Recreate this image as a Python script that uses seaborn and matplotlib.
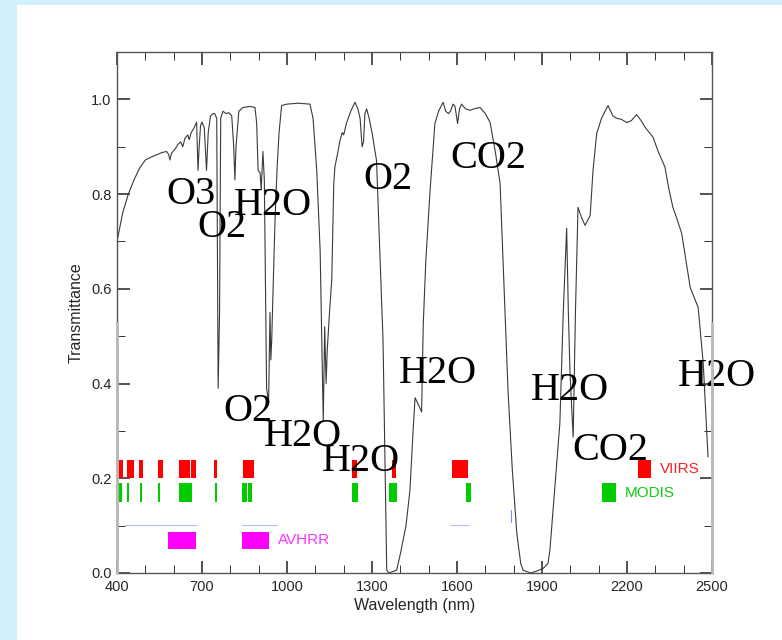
import matplotlib
matplotlib.use("Agg")
import matplotlib.pyplot as plt
import seaborn as sns
import pandas as pd
from matplotlib.patches import Rectangle

# atmospheric transmittance
wavelength = [400, 420, 440, 460, 480, 500, 520, 540, 560, 575, 582, 587, 592, 605, 615,
              625, 632, 640, 650, 655, 662, 672, 681, 686, 690, 695, 700, 708, 716, 722,
              730, 739, 745, 752, 757, 762, 766, 774, 785, 795, 805, 812, 816, 820, 830,
              845, 870, 887, 893, 898, 905, 909, 915, 920, 928, 935, 940, 943, 946, 950,
              958, 965, 972, 981, 1000, 1040, 1081, 1092, 1105, 1117, 1124, 1128, 1133,
              1138, 1142, 1150, 1158, 1165, 1169, 1180, 1187, 1195, 1200, 1210, 1225,
              1240, 1250, 1258, 1265, 1270, 1275, 1281, 1290, 1300, 1316, 1325, 1339,
              1348, 1352, 1360, 1387, 1400, 1420, 1434, 1445, 1452, 1460, 1468, 1475,
              1481, 1490, 1505, 1522, 1535, 1551, 1560, 1570, 1577, 1586, 1593, 1602,
              1609, 1616, 1630, 1646, 1660, 1681, 1700, 1717, 1735, 1752, 1765, 1780,
              1795, 1811, 1825, 1833, 1860, 1881, 1905, 1921, 1928, 1945, 1963, 1975,
              1987, 1993, 1999, 2010, 2018, 2027, 2040, 2052, 2070, 2080, 2093, 2110,
              2133, 2150, 2164, 2180, 2199, 2215, 2234, 2250, 2264, 2292, 2310, 2334,
              2348, 2362, 2375, 2393, 2423, 2451, 2469, 2486]
transmittance = [0.70, 0.76, 0.80, 0.83, 0.855, 0.872, 0.878, 0.883, 0.888, 0.89, 0.884,
                 0.872, 0.886, 0.895, 0.905, 0.91, 0.90, 0.918, 0.925, 0.915, 0.93, 0.94,
                 0.952, 0.85, 0.90, 0.945, 0.952, 0.94, 0.85, 0.93, 0.965, 0.97, 0.97,
                 0.96, 0.39, 0.55, 0.96, 0.975, 0.97, 0.972, 0.965, 0.90, 0.83, 0.90,
                 0.975, 0.983, 0.985, 0.983, 0.95, 0.85, 0.845, 0.81, 0.89, 0.83, 0.39,
                 0.36, 0.55, 0.45, 0.49, 0.58, 0.75, 0.855, 0.93, 0.987, 0.99, 0.992,
                 0.99, 0.96, 0.85, 0.68, 0.45, 0.32, 0.52, 0.40, 0.47, 0.55, 0.62, 0.82,
                 0.857, 0.89, 0.913, 0.93, 0.925, 0.95, 0.975, 0.994, 0.98, 0.96, 0.90,
                 0.91, 0.97, 0.98, 0.96, 0.93, 0.871, 0.72, 0.49, 0.15, 0.006, 0.0,
                 0.006, 0.04, 0.10, 0.175, 0.30, 0.37, 0.36, 0.35, 0.34, 0.527, 0.66,
                 0.808, 0.949, 0.975, 0.994, 0.975, 0.97, 0.975, 0.99, 0.985, 0.949,
                 0.98, 0.99, 0.98, 0.977, 0.98, 0.983, 0.97, 0.951, 0.89, 0.823, 0.62,
                 0.386, 0.22, 0.084, 0.02, 0.006, 0.0, 0.004, 0.01, 0.02, 0.049, 0.18,
                 0.316, 0.55, 0.728, 0.55, 0.42, 0.287, 0.55, 0.772, 0.75, 0.734, 0.755,
                 0.85, 0.928, 0.96, 0.987, 0.965, 0.96, 0.958, 0.951, 0.955, 0.968,
                 0.955, 0.941, 0.920, 0.89, 0.857, 0.81, 0.772, 0.75, 0.717, 0.603,
                 0.561, 0.443, 0.245]

# sensor bands (start, end) in nm
viirs_bands = [(401, 420), (434, 460), (479, 493), (546, 561), (619, 658), (660, 679),
               (743, 754), (846, 883), (1231, 1248), (1372, 1384), (1581, 1640), (2238, 2284)]
modis_bands = [(403, 417), (435, 442), (481, 489), (546, 553), (619, 665), (746, 752),
               (842, 858), (861, 875), (1231, 1250), (1361, 1387), (1631, 1649), (2110, 2161)]
avhrr_bands = [(581, 679), (842, 937)]
faint_bands = [(428, 679), (841, 965), (1580, 1640)]

gas_labels = ["O3", "O2", "H2O", "O2", "CO2", "O2", "H2O", "H2O", "H2O", "H2O", "CO2", "H2O"]
gas_x = [661, 772, 949, 1355, 1710, 861, 1055, 1261, 1533, 1999, 2140, 2516]
gas_y = [0.80, 0.73, 0.776, 0.831, 0.875, 0.342, 0.289, 0.236, 0.422, 0.386, 0.259, 0.414]

sns.set_style("ticks")
plt.rcParams["font.family"] = ["Liberation Sans", "DejaVu Sans"]

fig = plt.figure(figsize=(7.82, 6.4), dpi=100)
fig.patches.append(Rectangle((0, 0), 1, 1, transform=fig.transFigure,
                             facecolor="#d2f0fe", edgecolor="none", zorder=-10))
fig.patches.append(Rectangle((0.0217, 0), 0.9783, 0.992, transform=fig.transFigure,
                             facecolor="white", edgecolor="none", zorder=-9))
ax = fig.add_axes([0.1496, 0.1047, 0.7609, 0.814])
ax.set_facecolor("none")

df = pd.DataFrame({"wavelength": wavelength, "transmittance": transmittance})
sns.lineplot(data=df, x="wavelength", y="transmittance", sort=False, estimator=None,
             color="#3a3a3a", linewidth=0.8, ax=ax)

ax.bar([b[0] for b in viirs_bands], 0.038, width=[b[1] - b[0] for b in viirs_bands],
       bottom=0.200, align="edge", color="#ff0000", linewidth=0)
ax.bar([b[0] for b in modis_bands], 0.039, width=[b[1] - b[0] for b in modis_bands],
       bottom=0.150, align="edge", color="#00cc00", linewidth=0)
ax.bar([b[0] for b in avhrr_bands], 0.037, width=[b[1] - b[0] for b in avhrr_bands],
       bottom=0.050, align="edge", color="#ff00ff", linewidth=0)
for lo, hi in faint_bands:
    ax.plot([lo, hi], [0.101, 0.101], color="#b4baff", linewidth=0.8)
ax.plot([1789, 1789], [0.108, 0.133], color="#7f88ff", linewidth=0.8)

ax.text(2317, 0.219, "VIIRS", color="#ff2020", fontsize=11, va="center")
ax.text(2193, 0.169, "MODIS", color="#10cc10", fontsize=11, va="center")
ax.text(968, 0.070, "AVHRR", color="#ff33ff", fontsize=11, va="center")

for lab, x, y in zip(gas_labels, gas_x, gas_y):
    ax.text(x, y, lab, family="Liberation Serif", fontsize=29, ha="center",
            va="center", color="black", clip_on=False)

# grey overlay on the lower part of both side axes
for xs in (0, 1):
    ax.plot([xs, xs], [0, 0.527 / 1.1], transform=ax.transAxes, color="#b8b8b8",
            linewidth=2, clip_on=False, zorder=5)

ax.set_xlim(400, 2500)
ax.set_ylim(0, 1.1)
ax.set_xticks(range(400, 2501, 300))
ax.set_xticks(range(400, 2501, 100), minor=True)
ax.set_yticks([0.0, 0.2, 0.4, 0.6, 0.8, 1.0])
ax.set_yticklabels(["0.0", "0.2", "0.4", "0.6", "0.8", "1.0"])
ax.set_yticks([0.1, 0.3, 0.5, 0.7, 0.9], minor=True)
ax.tick_params(which="both", direction="in", top=True, right=True, labelsize=10.5,
               color="#333333")
ax.tick_params(axis="x", pad=5)
ax.tick_params(axis="y", pad=4)
ax.tick_params(which="major", length=9, width=1.2)
ax.tick_params(which="minor", length=6, width=0.7)
for s in ax.spines.values():
    s.set_color("#555555")
    s.set_linewidth(1)
ax.set_xlabel("Wavelength (nm)", fontsize=11.5, labelpad=3)
ax.set_ylabel("Transmittance", fontsize=11.5, labelpad=5)

fig.savefig("out.png", dpi=100)
